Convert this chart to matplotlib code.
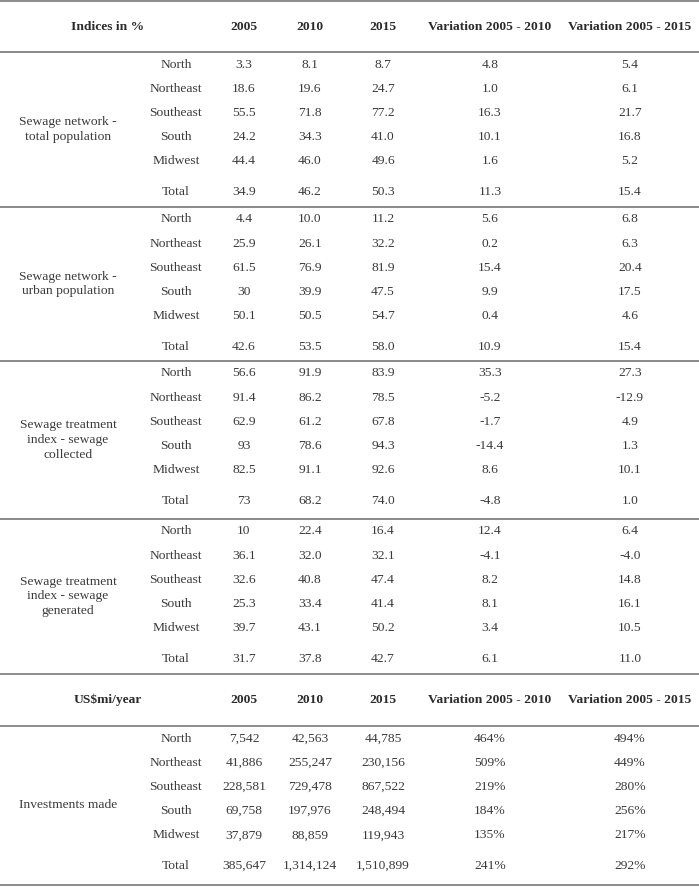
import matplotlib.pyplot as plt

# --- table content -------------------------------------------------------
header_pct = ["Indices in %", "2005", "2010", "2015",
              "Variation 2005 - 2010", "Variation 2005 - 2015"]
header_inv = ["US$mi/year", "2005", "2010", "2015",
              "Variation 2005 - 2010", "Variation 2005 - 2015"]

regions = ["North", "Northeast", "Southeast", "South", "Midwest", "Total"]

group_labels = [
    "Sewage network -\ntotal population",
    "Sewage network -\nurban population",
    "Sewage treatment\nindex - sewage\ncollected",
    "Sewage treatment\nindex - sewage\ngenerated",
    "Investments made",
]

# one list per column, one entry per region (North .. Total)
total_pop_2005 = ["3.3", "18.6", "55.5", "24.2", "44.4", "34.9"]
total_pop_2010 = ["8.1", "19.6", "71.8", "34.3", "46.0", "46.2"]
total_pop_2015 = ["8.7", "24.7", "77.2", "41.0", "49.6", "50.3"]
total_pop_var10 = ["4.8", "1.0", "16.3", "10.1", "1.6", "11.3"]
total_pop_var15 = ["5.4", "6.1", "21.7", "16.8", "5.2", "15.4"]

urban_pop_2005 = ["4.4", "25.9", "61.5", "30", "50.1", "42.6"]
urban_pop_2010 = ["10.0", "26.1", "76.9", "39.9", "50.5", "53.5"]
urban_pop_2015 = ["11.2", "32.2", "81.9", "47.5", "54.7", "58.0"]
urban_pop_var10 = ["5.6", "0.2", "15.4", "9.9", "0.4", "10.9"]
urban_pop_var15 = ["6.8", "6.3", "20.4", "17.5", "4.6", "15.4"]

collected_2005 = ["56.6", "91.4", "62.9", "93", "82.5", "73"]
collected_2010 = ["91.9", "86.2", "61.2", "78.6", "91.1", "68.2"]
collected_2015 = ["83.9", "78.5", "67.8", "94.3", "92.6", "74.0"]
collected_var10 = ["35.3", "-5.2", "-1.7", "-14.4", "8.6", "-4.8"]
collected_var15 = ["27.3", "-12.9", "4.9", "1.3", "10.1", "1.0"]

generated_2005 = ["10", "36.1", "32.6", "25.3", "39.7", "31.7"]
generated_2010 = ["22.4", "32.0", "40.8", "33.4", "43.1", "37.8"]
generated_2015 = ["16.4", "32.1", "47.4", "41.4", "50.2", "42.7"]
generated_var10 = ["12.4", "-4.1", "8.2", "8.1", "3.4", "6.1"]
generated_var15 = ["6.4", "-4.0", "14.8", "16.1", "10.5", "11.0"]

invest_2005 = ["7,542", "41,886", "228,581", "69,758", "37,879", "385,647"]
invest_2010 = ["42,563", "255,247", "729,478", "197,976", "88,859", "1,314,124"]
invest_2015 = ["44,785", "230,156", "867,522", "248,494", "119,943", "1,510,899"]
invest_var10 = ["464%", "509%", "219%", "184%", "135%", "241%"]
invest_var15 = ["494%", "449%", "280%", "256%", "217%", "292%"]

blocks = [
    [total_pop_2005, total_pop_2010, total_pop_2015, total_pop_var10, total_pop_var15],
    [urban_pop_2005, urban_pop_2010, urban_pop_2015, urban_pop_var10, urban_pop_var15],
    [collected_2005, collected_2010, collected_2015, collected_var10, collected_var15],
    [generated_2005, generated_2010, generated_2015, generated_var10, generated_var15],
    [invest_2005, invest_2010, invest_2015, invest_var10, invest_var15],
]

# --- layout (pixel units, y downward) -----------------------------------
W, H = 699, 889
col_x = [108, 176, 244, 310, 383, 490, 630]   # header, region, 5 value columns
group_x = 68
block_tops = [52, 207, 361, 519, 726]
block_bottoms = [207, 361, 519, 674, 885]
row_step = 24.2
first_off = 12.5
total_gap = 30.5

TXT = "#3a3a3a"
LINE = "#8c8c8c"
FS = 9.7
FONT = "Liberation Serif"

fig = plt.figure(figsize=(W / 100, H / 100), dpi=100)
ax = fig.add_axes([0, 0, 1, 1])
ax.set_xlim(0, W)
ax.set_ylim(H, 0)
ax.axis("off")


def hline(y):
    ax.plot([0, W], [y, y], color=LINE, lw=1.4, solid_capstyle="butt")


def header(y, labels):
    xs = [col_x[0]] + col_x[2:]
    for x, lab in zip(xs, labels):
        ax.text(x, y, lab, ha="center", va="center", fontsize=FS,
                fontweight="bold", color="#2b2b2b", family=FONT)


hline(1)
header(27, header_pct)
hline(52)
header(700, header_inv)

for b, cols in enumerate(blocks):
    top, bottom = block_tops[b], block_bottoms[b]
    hline(top)
    ys = [top + first_off + i * row_step for i in range(5)]
    ys.append(ys[-1] + total_gap)
    for i, reg in enumerate(regions):
        ax.text(col_x[1], ys[i], reg, ha="center", va="center",
                fontsize=FS, color=TXT, family=FONT)
        for c, col in enumerate(cols):
            ax.text(col_x[2 + c], ys[i], col[i], ha="center", va="center",
                    fontsize=FS, color=TXT, family=FONT)
    ax.text(group_x, (top + bottom) / 2, group_labels[b], ha="center",
            va="center", fontsize=FS, color=TXT, family=FONT,
            linespacing=1.28)
    hline(bottom)

fig.savefig("out.png", dpi=100)
